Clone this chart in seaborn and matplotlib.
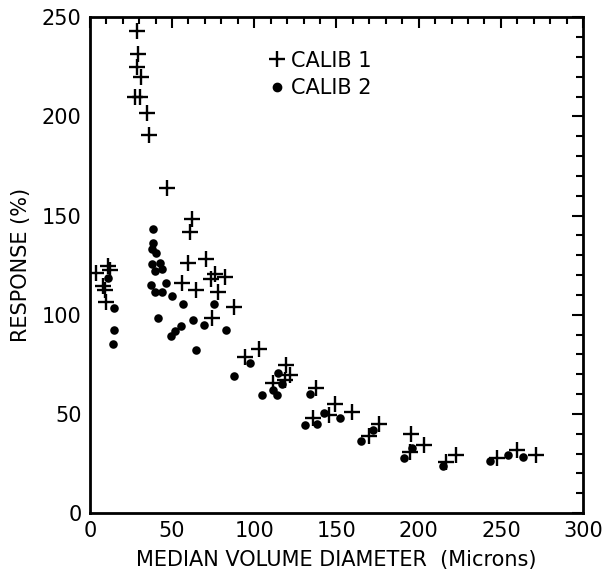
import matplotlib
matplotlib.use('Agg')
import matplotlib.pyplot as plt
import seaborn as sns
import pandas as pd
from matplotlib.ticker import MultipleLocator
from matplotlib.lines import Line2D

# values
calib1_x = [28.8, 29.1, 28.5, 31.3, 27.4, 30.3, 34.6, 36.0, 47.1,
            4.0, 10.8, 12.0, 8.0, 9.5, 10.0,
            62.0, 61.2, 59.5, 70.9, 56.2, 64.6, 73.6, 76.4, 82.0, 78.0,
            74.4, 87.6, 94.2, 102.8, 119.1, 121.5, 118.5, 111.5, 137.6,
            135.6, 148.8, 145.7, 159.6, 169.7, 175.8, 195.5, 194.9, 203.3,
            216.9, 222.4, 247.4, 260.0, 271.3]
calib1_y = [242.9, 231.6, 224.8, 219.6, 209.6, 209.6, 201.8, 190.5, 163.9,
            121.0, 124.5, 122.4, 114.5, 112.5, 106.3,
            148.0, 141.8, 126.3, 128.3, 116.1, 112.7, 117.8, 120.5, 119.1, 111.6,
            98.5, 103.9, 78.8, 82.8, 74.5, 69.5, 67.0, 65.7, 63.2,
            47.7, 54.8, 49.3, 51.1, 38.7, 44.8, 40.1, 30.8, 34.5,
            26.0, 29.1, 27.9, 31.9, 29.1]

calib2_x = [11.2, 14.4, 14.6, 14.2,
            38.4, 38.4, 37.6, 40.4, 38.0, 42.7, 39.6, 44.1, 37.0, 39.6,
            44.1, 46.5, 49.8, 56.7, 41.7, 62.8, 55.3, 51.8, 49.4, 69.5,
            64.8, 75.8, 82.7, 87.8, 97.4, 104.8, 111.6, 113.7, 114.2,
            116.8, 133.9, 131.1, 138.2, 142.7, 152.4, 165.0, 172.2, 190.9,
            195.9, 214.8, 243.3, 254.5, 263.2]
calib2_y = [118.7, 103.4, 92.4, 85.2,
            143.2, 136.4, 133.0, 131.3, 125.4, 126.3, 122.0, 122.9, 115.0, 111.6,
            111.6, 116.1, 109.4, 105.5, 98.4, 97.5, 94.5, 91.6, 89.1, 94.6,
            82.3, 105.6, 92.1, 69.3, 75.6, 59.5, 62.0, 59.7, 70.7,
            65.2, 60.2, 44.3, 45.1, 50.7, 47.7, 36.4, 41.7, 28.0,
            32.8, 23.9, 26.2, 29.3, 28.1]

labels = ['CALIB 1', 'CALIB 2']

df1 = pd.DataFrame({'x': calib1_x, 'y': calib1_y})
df2 = pd.DataFrame({'x': calib2_x, 'y': calib2_y})

sns.set_style('white')
plt.rcParams['font.family'] = ['DejaVu Sans']
plt.rcParams['text.color'] = 'black'
plt.rcParams['axes.labelcolor'] = 'black'

fig = plt.figure(figsize=(6.03, 5.72), dpi=100)
ax = fig.add_axes([0.149, 0.103, 0.818, 0.867])

sns.scatterplot(x='x', y='y', data=df1, marker='+', s=120,
                color='black', linewidth=1.7, ax=ax)
sns.scatterplot(x='x', y='y', data=df2, marker='o', s=38,
                color='black', edgecolor='black', linewidth=0, ax=ax)

ax.set_xlim(0, 300)
ax.set_ylim(0, 250)
ax.xaxis.set_major_locator(MultipleLocator(50))
ax.xaxis.set_minor_locator(MultipleLocator(10))
ax.yaxis.set_major_locator(MultipleLocator(50))
ax.yaxis.set_minor_locator(MultipleLocator(10))
ax.tick_params(which='both', direction='in', top=True, right=True,
               width=1.5, colors='black', labelsize=15)
ax.tick_params(which='major', length=8, pad=6)
ax.tick_params(which='minor', length=5)
for s in ax.spines.values():
    s.set_linewidth(2)
    s.set_color('black')

ax.set_xlabel('MEDIAN VOLUME DIAMETER  (Microns)', fontsize=15, labelpad=6)
ax.set_ylabel('RESPONSE (%)', fontsize=15, labelpad=8)

handles = [
    Line2D([], [], marker='+', color='black', linestyle='none',
           markersize=12, markeredgewidth=1.7),
    Line2D([], [], marker='o', color='black', linestyle='none',
           markersize=6),
]
ax.legend(handles, labels, loc='upper left', bbox_to_anchor=(0.32, 0.97),
          frameon=False, fontsize=15, handletextpad=0.2,
          handlelength=1.0, labelspacing=0.35)

plt.savefig('out.png', dpi=100)
